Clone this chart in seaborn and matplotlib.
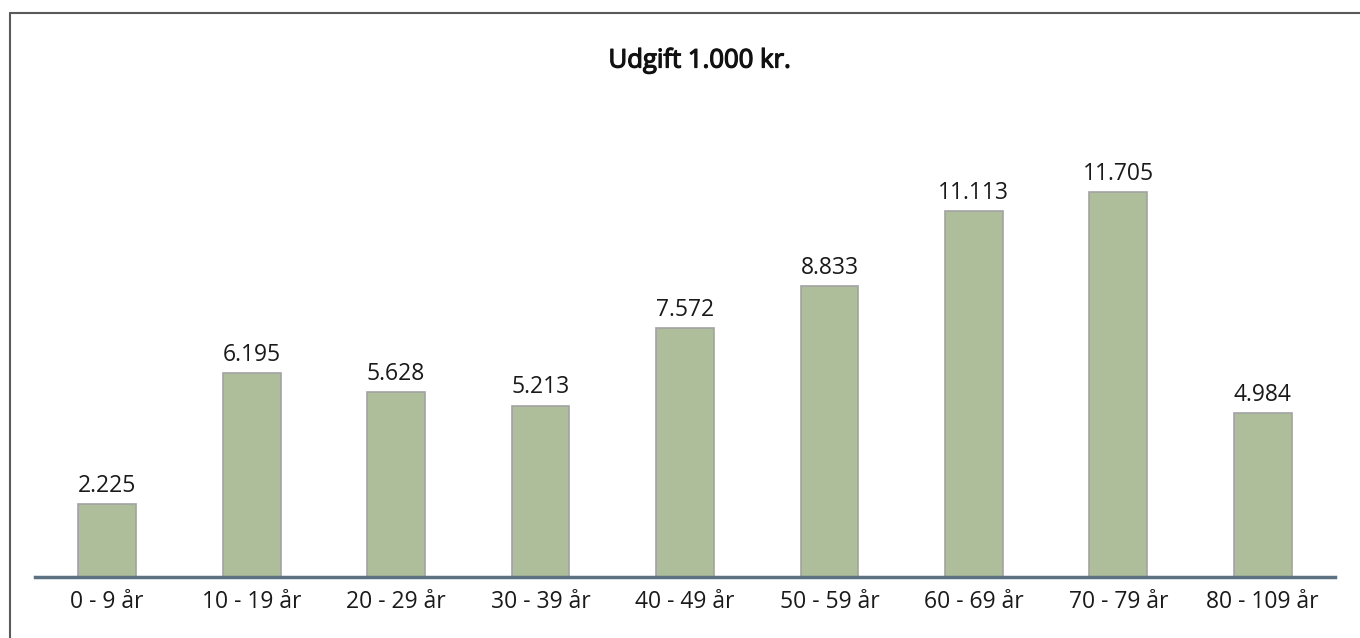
import matplotlib
matplotlib.use("Agg")
import matplotlib.pyplot as plt
import matplotlib.patheffects as pe
import seaborn as sns
import pandas as pd
from matplotlib.lines import Line2D

categories = ["0 - 9 år", "10 - 19 år", "20 - 29 år", "30 - 39 år", "40 - 49 år",
              "50 - 59 år", "60 - 69 år", "70 - 79 år", "80 - 109 år"]
values = [2225, 6195, 5628, 5213, 7572, 8833, 11113, 11705, 4984]
title = "Udgift 1.000 kr."

sns.set_theme(style="white")
plt.rcParams['font.family'] = ['Open Sans', 'DejaVu Sans']

df = pd.DataFrame({"cat": categories, "val": values})

fig = plt.figure(figsize=(13.6, 6.38), dpi=100)
ax = fig.add_axes([35/1360, (638-577)/638, (1335-35)/1360, (577-149.4)/638])

sns.barplot(data=df, x="cat", y="val", ax=ax, color="#AEBE9A", width=0.4,
            edgecolor="#A3A3A3", linewidth=1.2, saturation=1)

ax.set_ylim(0, 13000)
ax.set_xlim(-0.5, len(categories) - 0.5)
for s in ["top", "right", "left"]:
    ax.spines[s].set_visible(False)
ax.spines["bottom"].set_color("#5C7283")
ax.spines["bottom"].set_linewidth(2.5)
ax.set_yticks([])
ax.set_xlabel("")
ax.set_ylabel("")
ax.tick_params(axis="x", length=0, pad=9, labelsize=16.5, colors="#1a1a1a")

for i, v in enumerate(values):
    ax.text(i, v + 190, f"{v:,}".replace(",", "."), ha="center", va="bottom",
            fontsize=16.5, color="#1a1a1a")

fig.text(700/1360, 1 - 61/638, title, ha="center", va="center", fontsize=18.5,
         fontweight="normal", color="#111111",
         path_effects=[pe.withStroke(linewidth=0.9, foreground="#111111")])

# outer border: top and left lines
fig.add_artist(Line2D([10/1360, 10/1360], [0, 1 - 13/638], transform=fig.transFigure,
                      color="#5a5a5a", linewidth=1.5))
fig.add_artist(Line2D([10/1360, 1], [1 - 13/638, 1 - 13/638], transform=fig.transFigure,
                      color="#5a5a5a", linewidth=1.5))

fig.savefig("out.png", dpi=100, facecolor="white")
